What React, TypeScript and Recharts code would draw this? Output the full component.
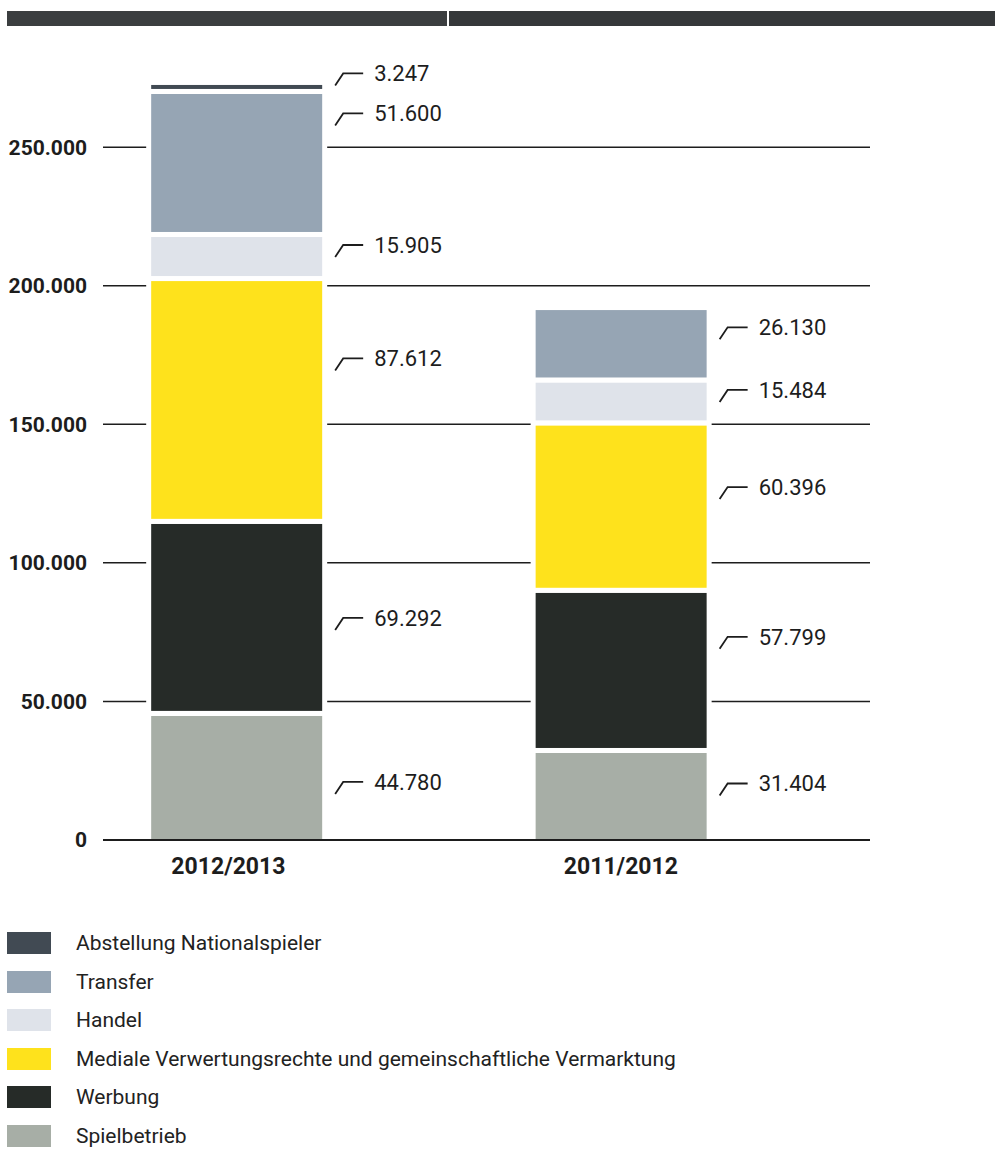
import React from "react";
import { BarChart, Bar, XAxis, YAxis, CartesianGrid, LabelList } from "recharts";

// Erlöse in TEUR, je Saison (Reihenfolge = Kategorien)
const seasons = ["2012/2013", "2011/2012"];
const spielbetrieb = [44780, 31404];
const werbung = [69292, 57799];
const medialeRechte = [87612, 60396];
const handel = [15905, 15484];
const transfer = [51600, 26130];
const abstellung = [3247, 0];

const yTicks = [0, 50000, 100000, 150000, 200000, 250000];

// stacked bottom -> top
const series = [
  { key: "spielbetrieb", name: "Spielbetrieb", values: spielbetrieb, color: "#a7aea6" },
  { key: "werbung", name: "Werbung", values: werbung, color: "#262b28" },
  { key: "medial", name: "Mediale Verwertungsrechte und gemeinschaftliche Vermarktung", values: medialeRechte, color: "#fee21c" },
  { key: "handel", name: "Handel", values: handel, color: "#dfe3ea" },
  { key: "transfer", name: "Transfer", values: transfer, color: "#96a5b4" },
  { key: "abstellung", name: "Abstellung Nationalspieler", values: abstellung, color: "#414a53" },
];

// hand placed label offsets (px from segment middle), per season
const labelNudge: Record<string, number[]> = {
  spielbetrieb: [4, -13],
  werbung: [-2, -36],
  medial: [-44, -22],
  handel: [-14, -14],
  transfer: [-52, -19],
  abstellung: [-16, 0],
};
// season label sits slightly left of the first bar
const tickNudge = [-8, 0];

const rows = seasons.map((season, i) => {
  const row: Record<string, number | string> = { idx: i, season };
  series.forEach((s) => (row[s.key] = s.values[i]));
  return row;
});

const ink = "#1d1d1d";
const font = "Roboto, 'DejaVu Sans', sans-serif";
const GAP = 5;

const fmt = (v: number) => String(v).replace(/\B(?=(\d{3})+(?!\d))/g, ".");

function segmentShape(color: string, bottom: boolean) {
  return (props: any) => {
    const { x, y, width, height } = props;
    if (!height || height <= 0) return <g />;
    const h = bottom ? height : height - GAP;
    return (
      <g>
        <rect x={x - 5} y={y} width={width + 10} height={height} fill="#fff" />
        {h > 0 && <rect x={x} y={y} width={width} height={h} fill={color} />}
      </g>
    );
  };
}

function valueLabel(s: (typeof series)[number]) {
  return (props: any) => {
    const vb = props.viewBox ?? props;
    const { x, y, width, height } = vb;
    const i = props.index;
    const v = s.values[i];
    if (!v) return null;
    const r = x + width;
    const cy = y + height / 2 + (labelNudge[s.key]?.[i] ?? 0);
    return (
      <g>
        <path
          d={`M${r + 13},${cy + 12} L${r + 21},${cy} L${r + 41},${cy}`}
          fill="none"
          stroke={ink}
          strokeWidth={1.8}
        />
        <text x={r + 52} y={cy} dy="0.36em" fill={ink} fontSize={22} fontFamily={font}>
          {fmt(v)}
        </text>
      </g>
    );
  };
}

function SeasonTick(props: any) {
  const { x, y, payload, index } = props;
  return (
    <text
      x={x + (tickNudge[index] ?? 0)}
      y={y}
      dy="0.71em"
      textAnchor="middle"
      fill={ink}
      fontSize={23}
      fontWeight={700}
      fontFamily={font}
    >
      {seasons[payload.value]}
    </text>
  );
}

export default function App() {
  const legend = [...series].reverse();
  return (
    <div style={{ position: "relative", width: 995, height: 1167, background: "#fff" }}>
      <style>{"body{margin:0}"}</style>
      <div style={{ position: "absolute", left: 7, top: 11, width: 440, height: 15, background: "#3b3e40" }} />
      <div style={{ position: "absolute", left: 449, top: 11, width: 546, height: 15, background: "#35383a" }} />

      <BarChart
        width={995}
        height={900}
        data={rows}
        margin={{ top: 64, right: 125, left: 0, bottom: 0 }}
        style={{ position: "absolute", left: 0, top: 0 }}
      >
        <CartesianGrid
          vertical={false}
          horizontalValues={yTicks.slice(1)}
          stroke={ink}
          strokeWidth={1.5}
        />
        <XAxis
          type="number"
          dataKey="idx"
          domain={[-0.347, 1.648]}
          ticks={[0, 1]}
          interval={0}
          allowDataOverflow
          axisLine={{ stroke: ink, strokeWidth: 2 }}
          tickLine={false}
          tickSize={0}
          tickMargin={18}
          height={60}
          tick={<SeasonTick />}
        />
        <YAxis
          type="number"
          domain={[0, 280000]}
          ticks={yTicks}
          width={103}
          axisLine={false}
          tickLine={false}
          tickSize={0}
          tickMargin={16}
          tickFormatter={fmt}
          tick={{ fill: ink, fontSize: 21, fontWeight: 700, fontFamily: font }}
        />
        {series.map((s, si) => (
          <Bar
            key={s.key}
            dataKey={s.key}
            stackId="a"
            barSize={171}
            fill={s.color}
            shape={segmentShape(s.color, si === 0)}
            activeBar={false}
            isAnimationActive={false}
          >
            <LabelList dataKey={s.key} content={valueLabel(s)} />
          </Bar>
        ))}
      </BarChart>

      {legend.map((s, i) => (
        <div
          key={s.key}
          style={{
            position: "absolute",
            left: 7,
            top: 932 + i * 38.5,
            height: 22,
            display: "flex",
            alignItems: "center",
            fontFamily: font,
            fontSize: 21,
            color: "#222",
            whiteSpace: "nowrap",
          }}
        >
          <div style={{ width: 44, height: 22, background: s.color, marginRight: 25 }} />
          {s.name}
        </div>
      ))}
    </div>
  );
}
